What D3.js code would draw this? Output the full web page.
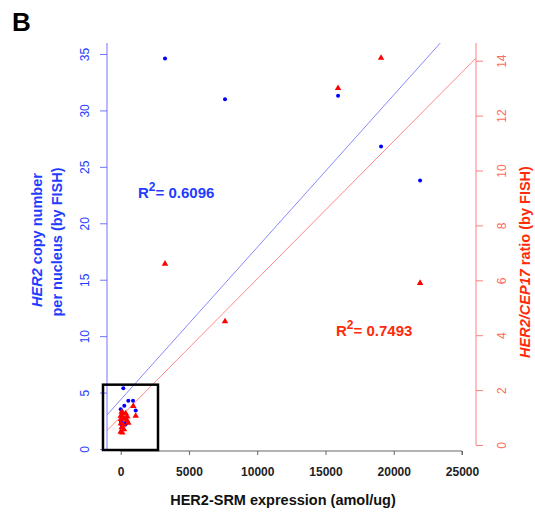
<!DOCTYPE html>
<html>
<head>
<meta charset="utf-8">
<script src="https://cdn.jsdelivr.net/npm/d3@7"></script>
<style>
  body { margin: 0; background: #fff; }
  svg { font-family: "Liberation Sans", Arial, sans-serif; }
</style>
</head>
<body>
<svg id="chart" width="535" height="512"></svg>
<script>
// HER2-SRM expression (amol/ug) vs FISH measures
const copyX = [3245, 7640, 15920, 19070, 21930,
  190, 557, 901, 264, 0, 1099, 20, 264, 30, 366]
const copyY = [34.6, 31.0, 31.3, 26.8, 23.8,
  5.38, 4.28, 4.28, 3.84, 3.52, 3.42, 2.42, 2.28, 2.19, 2.19]

const ratioX = [3245, 7640, 15920, 19070, 21930,
  923, 1099, 73, 190, 0, 146, 315, 20, 440, 557, 190, 73, 242, 0, 117, 20, 366, 483]
const ratioY = [6.6, 4.5, 13.0, 14.1, 5.9,
  1.42, 1.06, 1.21, 1.15, 1.06, 1.01, 0.97, 0.94, 0.91, 0.81, 0.73, 0.64, 0.57, 0.48, 0.45, 0.79, 1.15, 1.03]

// fitted lines (intercept, slope)
const fitCopy = [4.37, 0.00135]
const fitRatio = [1.03, 0.000502]
const r2Copy = "0.6096"
const r2Ratio = "0.7493"

const xTicks = [0, 5000, 10000, 15000, 20000, 25000]
const yLeftTicks = [0, 5, 10, 15, 20, 25, 30, 35]
const yRightTicks = [0, 2, 4, 6, 8, 10, 12, 14]

// zoom box in data units (x, left y)
const boxX = [-1297, 2732]
const boxY = [-0.09, 5.7]

const svg = d3.select("#chart")

const x = d3.scaleLinear().domain([0, 25000]).range([120.7, 462])
const yL = d3.scaleLinear().domain([0, 35]).range([449, 54])
const yR = d3.scaleLinear().domain([0, 14]).range([445, 60.7])

const plotTop = 43, plotLeft = 107, plotRight = 476

const blueAxis = "#7373ff", redAxis = "#ff8080"
const blueText = "#1f3dff", redText = "#ff2a0a"

svg.append("text").attr("x", 12).attr("y", 31)
  .attr("font-size", 26).attr("font-weight", "bold").text("B")

// clip for fit lines
svg.append("clipPath").attr("id", "plotClip")
  .append("rect").attr("x", plotLeft).attr("y", plotTop)
  .attr("width", plotRight - plotLeft).attr("height", 452 - plotTop)

const xMin = x.invert(plotLeft), xMax = x.invert(plotRight)
svg.append("line").attr("clip-path", "url(#plotClip)")
  .attr("x1", x(xMin)).attr("y1", yL(fitCopy[0] + fitCopy[1] * xMin))
  .attr("x2", x(xMax)).attr("y2", yL(fitCopy[0] + fitCopy[1] * xMax))
  .attr("stroke", "#8888ff").attr("stroke-width", 1)
svg.append("line").attr("clip-path", "url(#plotClip)")
  .attr("x1", x(xMin)).attr("y1", yR(fitRatio[0] + fitRatio[1] * xMin))
  .attr("x2", x(xMax)).attr("y2", yR(fitRatio[0] + fitRatio[1] * xMax))
  .attr("stroke", "#ff8888").attr("stroke-width", 1)

// x axis
const gx = svg.append("g").attr("transform", "translate(0,451)")
  .call(d3.axisBottom(x).tickValues(xTicks).tickSize(4).tickPadding(12).tickFormat(d3.format("d")))
gx.select(".domain").attr("stroke", "#666").attr("d", `M${x(0)},0H${x(25000)}V4`)
gx.selectAll(".tick line").attr("stroke", "#666")
gx.selectAll(".tick text").attr("fill", "#222").attr("font-size", 12)
  .attr("font-family", "Liberation Sans, Arial, sans-serif").attr("font-weight", "bold")
svg.append("text").attr("x", 283).attr("y", 505).attr("text-anchor", "middle")
  .attr("font-size", 14.5).attr("font-weight", "bold").attr("fill", "#111")
  .text("HER2-SRM expression (amol/ug)")

// left axis
const gl = svg.append("g").attr("transform", `translate(${plotLeft},0)`)
  .call(d3.axisLeft(yL).tickValues(yLeftTicks).tickSize(7).tickFormat(d3.format("d")))
gl.select(".domain").attr("stroke", blueAxis).attr("d", `M0,${plotTop}V${yL(0)}`)
gl.selectAll(".tick line").attr("stroke", blueAxis)
gl.selectAll(".tick text").attr("fill", blueText).attr("font-size", 12)
  .attr("font-family", "Liberation Sans, Arial, sans-serif")
  .attr("text-anchor", "middle").attr("dy", null).attr("x", null)
  .attr("transform", "translate(-22,0) rotate(-90)").attr("dominant-baseline", "central")

const ttl = svg.append("text").attr("transform", "translate(42,240) rotate(-90)")
  .attr("text-anchor", "middle").attr("font-size", 14.5).attr("font-weight", "bold").attr("fill", blueText)
ttl.append("tspan").attr("font-style", "italic").text("HER2")
ttl.append("tspan").text(" copy number")
svg.append("text").attr("transform", "translate(62,242) rotate(-90)")
  .attr("text-anchor", "middle").attr("font-size", 14.5).attr("font-weight", "bold").attr("fill", blueText)
  .text("per nucleus (by FISH)")

// right axis
const gr = svg.append("g").attr("transform", `translate(${plotRight},0)`)
  .call(d3.axisRight(yR).tickValues(yRightTicks).tickSize(7).tickFormat(d3.format("d")))
gr.select(".domain").attr("stroke", redAxis).attr("d", `M0,${plotTop}V${yR(0)}`)
gr.selectAll(".tick line").attr("stroke", redAxis)
gr.selectAll(".tick text").attr("fill", "#ff6a5a").attr("font-size", 12)
  .attr("font-family", "Liberation Sans, Arial, sans-serif")
  .attr("text-anchor", "middle").attr("dy", null).attr("x", null)
  .attr("transform", "translate(26,0) rotate(-90)").attr("dominant-baseline", "central")

const rt = svg.append("text").attr("transform", "translate(530,262) rotate(-90)")
  .attr("text-anchor", "middle").attr("font-size", 14.5).attr("font-weight", "bold").attr("fill", redText)
rt.append("tspan").attr("font-style", "italic").text("HER2/CEP17")
rt.append("tspan").text(" ratio  (by FISH)")

// points
svg.append("g").selectAll("circle")
  .data(copyX.map((d, i) => [d, copyY[i]]))
  .join("circle")
  .attr("cx", d => x(d[0])).attr("cy", d => yL(d[1]))
  .attr("r", 2).attr("fill", "#0000ff")

const tri = d3.symbol().type(d3.symbolTriangle).size(18)
svg.append("g").selectAll("path")
  .data(ratioX.map((d, i) => [d, ratioY[i]]))
  .join("path")
  .attr("d", tri)
  .attr("transform", d => `translate(${x(d[0])},${yR(d[1])})`)
  .attr("fill", "#ff0000")

// zoom box
svg.append("rect")
  .attr("x", x(boxX[0])).attr("y", yL(boxY[1]))
  .attr("width", x(boxX[1]) - x(boxX[0])).attr("height", yL(boxY[0]) - yL(boxY[1]))
  .attr("fill", "none").attr("stroke", "#000").attr("stroke-width", 2.5)

// R^2 labels
function r2Label(px, py, val, color) {
  const t = svg.append("text").attr("x", px).attr("y", py)
    .attr("font-size", 15).attr("font-weight", "bold").attr("fill", color)
  t.append("tspan").text("R")
  t.append("tspan").attr("dy", -7).attr("font-size", 12).text("2")
  t.append("tspan").attr("dy", 7).text("= " + val)
}
r2Label(138, 198, r2Copy, blueText)
r2Label(336, 336, r2Ratio, redText)
</script>
</body>
</html>
